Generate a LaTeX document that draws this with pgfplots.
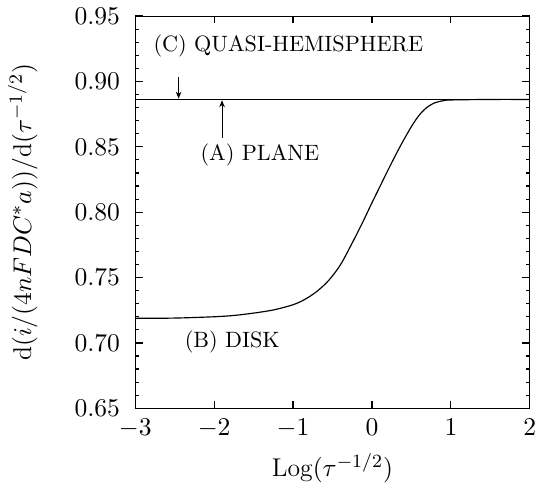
\documentclass[border=0pt]{standalone}
\usepackage{pgfplots}
\pgfplotsset{compat=1.18}
\usetikzlibrary{arrows.meta}
\begin{document}
\begin{tikzpicture}
% (B) disk
\pgfplotstableread{
x y
-3.00 0.7188
-2.50 0.7190
-2.00 0.7200
-1.75 0.7210
-1.50 0.7228
-1.25 0.7252
-1.00 0.7292
-0.85 0.7333
-0.70 0.7393
-0.55 0.7477
-0.40 0.7597
-0.25 0.7765
-0.12 0.7920
0.00 0.8072
0.10 0.8195
0.20 0.8318
0.35 0.8495
0.50 0.8655
0.60 0.8743
0.70 0.8803
0.80 0.8837
0.90 0.8852
1.00 0.8858
1.50 0.8862
2.00 0.8862
}\disk
% (A) plane and (C) quasi-hemisphere coincide
\pgfplotstableread{
x y
-3 0.8862
2 0.8862
}\plane
\begin{axis}[
    width=169pt, height=168pt, scale only axis,
    xmin=-3, xmax=2, ymin=0.65, ymax=0.95,
    xtick={-3,-2,-1,0,1,2},
    ytick={0.65,0.70,0.75,0.80,0.85,0.90,0.95},
    minor y tick num=4,
    y tick label style={xshift=-3pt},
    yticklabel style={/pgf/number format/fixed,/pgf/number format/fixed zerofill,/pgf/number format/precision=2},
    x tick label style={yshift=-1pt},
    tick align=inside,
    major tick length=3.2pt, minor tick length=1.6pt,
    tick style={black, line width=0.5pt},
    ticklabel style={font=\fontsize{11}{13}\selectfont},
    xlabel={Log$(\tau^{-1/2})$},
    ylabel={d$(i/(4nFDC^{*}a))/$d$(\tau^{-1/2})$},
    ylabel shift=9pt,
    label style={font=\fontsize{11}{13}\selectfont},
    clip=false,
]
\addplot[black, line width=0.5pt, smooth] table {\disk};
\addplot[black, line width=0.5pt] table {\plane};
\node[font=\fontsize{9.5}{11}\selectfont] at (axis cs:-1.06,0.927) {(C)\ QUASI-HEMISPHERE};
\node[font=\fontsize{9.5}{11}\selectfont] at (axis cs:-1.42,0.844) {(A)\ PLANE};
\node[font=\fontsize{9.5}{11}\selectfont] at (axis cs:-1.77,0.7005) {(B)\ DISK};
\draw[-{Stealth[length=3pt,width=2.4pt]}, line width=0.4pt] (axis cs:-2.45,0.903) -- (axis cs:-2.45,0.8868);
\draw[-{Stealth[length=3pt,width=2.4pt]}, line width=0.4pt] (axis cs:-1.90,0.857) -- (axis cs:-1.90,0.8856);
\end{axis}
% logarithmic minor ticks on the lower axis only
\begin{axis}[
    width=169pt, height=168pt, scale only axis,
    xmin=-3, xmax=2, ymin=0.65, ymax=0.95,
    hide y axis, axis x line*=bottom,
    axis line style={draw=none},
    xtick=\empty,
    minor xtick={-2.699,-2.523,-2.398,-2.301,-2.222,-2.155,-2.097,-2.046,
                 -1.699,-1.523,-1.398,-1.301,-1.222,-1.155,-1.097,-1.046,
                 -0.699,-0.523,-0.398,-0.301,-0.222,-0.155,-0.097,-0.046,
                 0.301,0.477,0.602,0.699,0.778,0.845,0.903,0.954,
                 1.301,1.477,1.602,1.699,1.778,1.845,1.903,1.954},
    tick align=inside, minor tick length=1.6pt,
    tick style={black, line width=0.5pt},
]
\end{axis}
\end{tikzpicture}
\end{document}
